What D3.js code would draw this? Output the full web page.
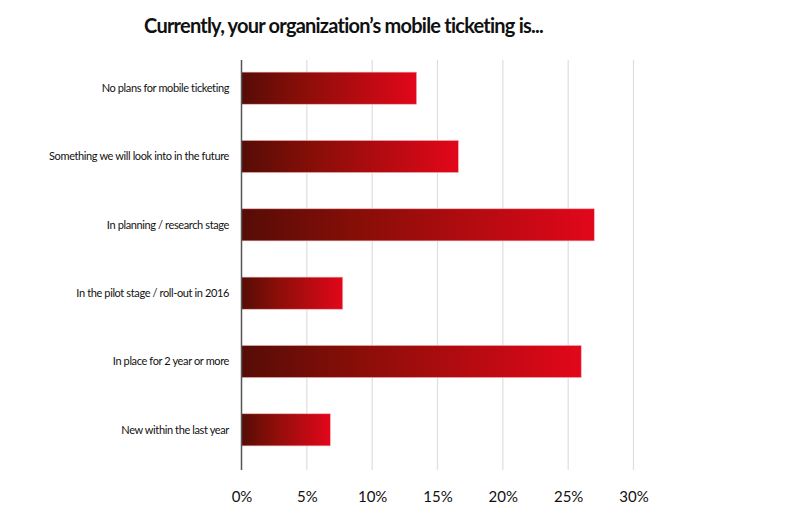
<!DOCTYPE html>
<html><head><meta charset="utf-8">
<script src="https://cdn.jsdelivr.net/npm/d3@7"></script>
<style>
body{margin:0;background:#fff;}
svg{display:block;font-family:Lato,"Open Sans",sans-serif;}
</style></head>
<body>
<svg id="chart" width="804" height="522"></svg>
<script>
const categories = [
  "No plans for mobile ticketing",
  "Something we will look into in the future",
  "In planning / research stage",
  "In the pilot stage / roll-out in 2016",
  "In place for 2 year or more",
  "New within the last year"
];
const values = [13.4, 16.6, 27.0, 7.75, 26.0, 6.8];
const tickValues = [0, 5, 10, 15, 20, 25, 30];
const title = "Currently, your organization\u2019s mobile ticketing is...";

const svg = d3.select("#chart");
const margin = {left: 241.5, right: 170, top: 54, bottom: 52};

const x = d3.scaleLinear().domain([0, 30]).range([margin.left, 633.5]);
const y = d3.scaleBand().domain(categories).range([54, 464]).paddingInner(0.53).paddingOuter(0.265);

const defs = svg.append("defs");
const grad = defs.append("linearGradient").attr("id", "barGrad")
  .attr("x1", "0%").attr("x2", "100%").attr("y1", "0%").attr("y2", "0%");
grad.append("stop").attr("offset", "0%").attr("stop-color", "#560c06");
grad.append("stop").attr("offset", "35%").attr("stop-color", "#8a0e08");
grad.append("stop").attr("offset", "100%").attr("stop-color", "#e2071a");

svg.append("text").attr("x", 343.5).attr("y", 33).attr("text-anchor", "middle")
  .attr("font-size", 20).attr("font-weight", 700).attr("fill", "#111")
  .attr("letter-spacing", -0.78).text(title);

// gridlines
svg.append("g").selectAll("line").data(tickValues.filter(d => d > 0)).join("line")
  .attr("x1", d => x(d)).attr("x2", d => x(d))
  .attr("y1", 60).attr("y2", 470)
  .attr("stroke", "#dedede").attr("stroke-width", 1.2);

// bars
svg.append("g").selectAll("rect").data(values).join("rect")
  .attr("x", x(0))
  .attr("y", (d, i) => y(categories[i]))
  .attr("width", d => x(d) - x(0))
  .attr("height", y.bandwidth())
  .attr("fill", "url(#barGrad)")
  .attr("stroke", "#f4b5b8").attr("stroke-width", 0.6);

// axis line
svg.append("line").attr("x1", x(0)).attr("x2", x(0)).attr("y1", 60).attr("y2", 470)
  .attr("stroke", "#555").attr("stroke-width", 1.5);

// category labels
svg.append("g").selectAll("text").data(categories).join("text")
  .attr("x", 229).attr("y", d => y(d) + y.bandwidth() / 2)
  .attr("dy", "0.35em").attr("text-anchor", "end")
  .attr("font-size", 11).attr("fill", "#111").attr("letter-spacing", -0.38)
  .text(d => d);

// x axis tick labels
const xAxis = d3.axisBottom(x).tickValues(tickValues).tickFormat(d => d + "%").tickSize(0);
const ax = svg.append("g").attr("transform", "translate(0,488)").call(xAxis);
ax.select(".domain").remove();
ax.selectAll("text").attr("font-size", 15).attr("fill", "#111").attr("font-family", "Lato,sans-serif");
</script>
</body></html>
